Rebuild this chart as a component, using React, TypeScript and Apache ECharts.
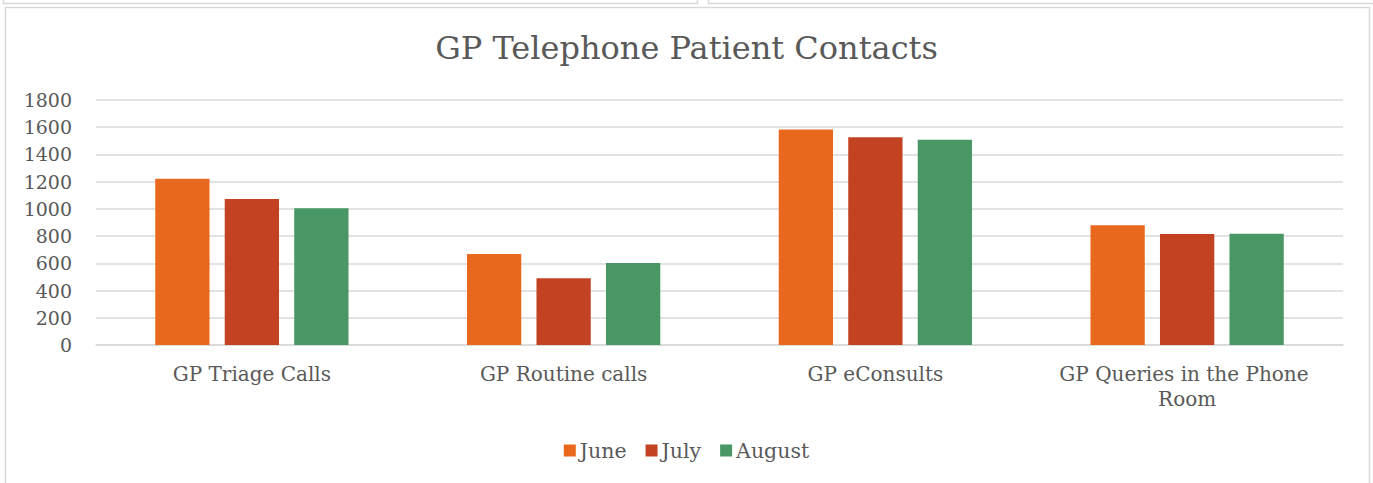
import React, { useEffect, useRef } from "react";
import * as echarts from "echarts";

const categories = ["GP Triage Calls", "GP Routine calls", "GP eConsults", "GP Queries in the Phone Room"];
const june = [1221, 668, 1584, 879];
const july = [1073, 491, 1527, 815];
const august = [1004, 602, 1508, 818];
const seriesNames = ["June", "July", "August"];
const colors = ["#E8691E", "#C34222", "#489765"];

const FONT = "DejaVu Serif";
const TEXT = "#595959";

export default function App() {
  const ref = useRef<HTMLDivElement>(null);
  useEffect(() => {
    if (!ref.current) return;
    const chart = echarts.init(ref.current, undefined, { renderer: "svg" });
    const data = [june, july, august];
    chart.setOption({
      animation: false,
      backgroundColor: "#ffffff",
      textStyle: { fontFamily: FONT },
      title: {
        text: "GP Telephone Patient Contacts",
        left: "center",
        top: 27,
        textStyle: { fontFamily: FONT, fontSize: 32, fontWeight: "normal", color: TEXT },
      },
      legend: {
        bottom: 17,
        left: "center",
        itemWidth: 12,
        itemHeight: 12,
        itemGap: 19,
        icon: "rect",
        textStyle: { fontFamily: FONT, fontSize: 20.5, color: TEXT, padding: [0, 0, 0, -1] },
        data: seriesNames,
      },
      graphic: [
        { type: "rect", shape: { x: 3.5, y: -5, width: 694, height: 8.5 }, style: { fill: "none", stroke: "#D9D9D9", lineWidth: 1.5 } },
        { type: "rect", shape: { x: 708.5, y: -5, width: 670, height: 8.5 }, style: { fill: "none", stroke: "#D9D9D9", lineWidth: 1.5 } },
        { type: "rect", shape: { x: 5.5, y: 7.5, width: 1364, height: 490 }, style: { fill: "none", stroke: "#D9D9D9", lineWidth: 1.5 } },
      ],
      grid: { left: 96, right: 30, top: 100, bottom: 138, containLabel: false },
      xAxis: {
        type: "category",
        data: categories,
        axisLine: { show: true, lineStyle: { color: "#D9D9D9", width: 1.5 } },
        axisTick: { show: false },
        axisLabel: {
          fontFamily: FONT,
          fontSize: 20,
          color: TEXT,
          margin: 16,
          lineHeight: 25,
          width: 280,
          overflow: "break",
          interval: 0,
        },
      },
      yAxis: {
        type: "value",
        min: 0,
        max: 1800,
        interval: 200,
        axisLine: { show: false },
        axisTick: { show: false },
        splitLine: { lineStyle: { color: "#D9D9D9", width: 1.5 } },
        axisLabel: { fontFamily: FONT, fontSize: 19, color: TEXT, margin: 24, formatter: (v: number) => String(v) },
      },
      series: seriesNames.map((name, i) => ({
        name,
        type: "bar",
        data: data[i],
        barGap: "28%",
        barCategoryGap: "38%",
        itemStyle: { color: colors[i] },
      })),
    });
    return () => chart.dispose();
  }, []);
  return <div ref={ref} style={{ position: "fixed", left: 0, top: 0, width: 1373, height: 483 }} />;
}
